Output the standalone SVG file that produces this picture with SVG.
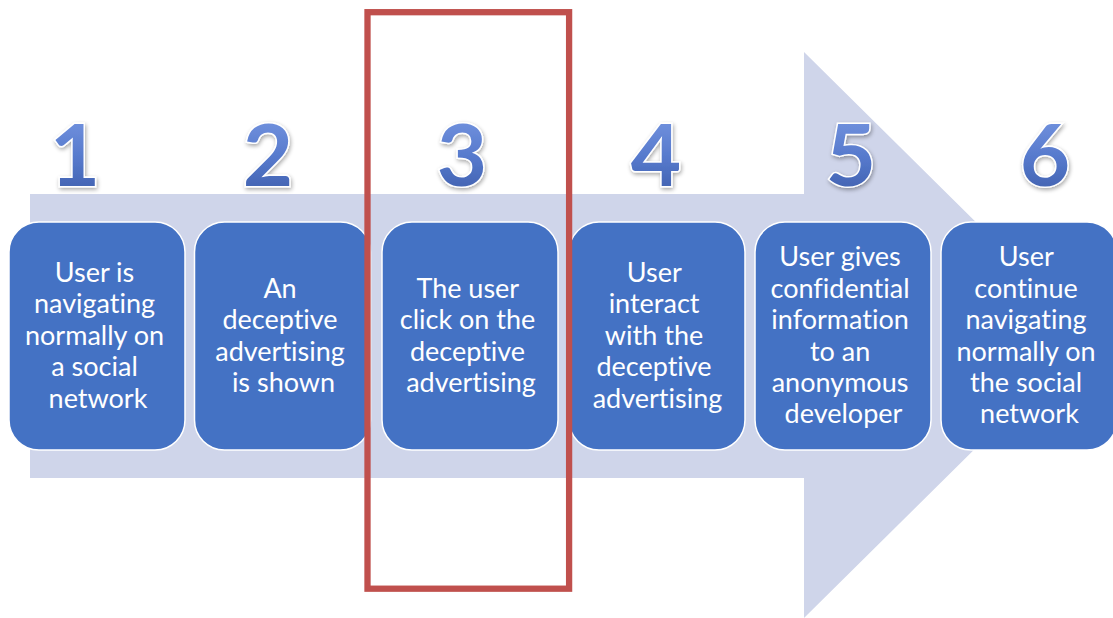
<svg xmlns="http://www.w3.org/2000/svg" width="1113" height="618" viewBox="0 0 1113 618">
  <defs>
    <linearGradient id="numFill" x1="0" y1="0" x2="0" y2="1">
      <stop offset="0" stop-color="#7E9DE6"/>
      <stop offset="0.55" stop-color="#5679CC"/>
      <stop offset="1" stop-color="#3A5AA6"/>
    </linearGradient>
    <filter id="numShadow" x="-30%" y="-30%" width="160%" height="160%">
      <feGaussianBlur in="SourceAlpha" stdDeviation="2"/>
      <feOffset dx="1" dy="2" result="blur"/>
      <feComponentTransfer><feFuncA type="linear" slope="0.35"/></feComponentTransfer>
      <feMerge><feMergeNode/><feMergeNode in="SourceGraphic"/></feMerge>
    </filter>
  </defs>
  <style>
    .arrow { fill: #CFD5EA; }
    .step { fill: #4472C4; stroke: #FFFFFF; stroke-width: 1.5; }
    .label { font-family: Lato, "Open Sans", "Liberation Sans", sans-serif; font-size: 27px; fill: #FFFFFF; text-anchor: middle; font-variant-ligatures: none; font-feature-settings: "liga" 0; }
    .num { font-family: Lato, "Open Sans", "Liberation Sans", sans-serif; font-weight: bold; font-size: 87px; fill: url(#numFill); stroke: #FFFFFF; stroke-width: 3; paint-order: stroke; text-anchor: middle; filter: url(#numShadow); }
    .focus { fill: none; stroke: #C0504D; stroke-width: 6.3; }
  </style>

  <rect width="1113" height="618" fill="#FFFFFF"/>

  <!-- background process arrow -->
  <g id="connectors">
    <polygon class="arrow" points="30,194 804,194 804,52 1090,335 804,618 804,478 30,478"/>
  </g>

  <!-- step numbers -->
  <g id="numbers">
    <text class="num" x="75" y="186">1</text>
    <text class="num" x="268" y="186">2</text>
    <text class="num" x="462" y="186">3</text>
    <text class="num" x="656" y="186">4</text>
    <text class="num" x="851" y="186">5</text>
    <text class="num" x="1045" y="186">6</text>
  </g>

  <!-- steps -->
  <g id="step1">
    <rect class="step" x="9" y="222" width="176" height="228" rx="30" ry="30"/>
    <text class="label" x="98">
      <tspan x="98" y="282">User is</tspan>
      <tspan x="98" y="313.4">navigating</tspan>
      <tspan x="98" y="344.8">normally on</tspan>
      <tspan x="98" y="376.2">a social</tspan>
      <tspan x="98" y="407.6">network</tspan>
    </text>
  </g>

  <g id="step2">
    <rect class="step" x="194.5" y="222" width="176" height="228" rx="30" ry="30"/>
    <text class="label" x="283.5">
      <tspan x="283.5" y="297.7">An</tspan>
      <tspan x="283.5" y="329.1">deceptive</tspan>
      <tspan x="283.5" y="360.5">advertising</tspan>
      <tspan x="283.5" y="391.9">is shown</tspan>
    </text>
  </g>

  <g id="step3">
    <rect class="step" x="382" y="222" width="176" height="228" rx="30" ry="30"/>
    <text class="label" x="471">
      <tspan x="471" y="297.7">The user</tspan>
      <tspan x="471" y="329.1">click on the</tspan>
      <tspan x="471" y="360.5">deceptive</tspan>
      <tspan x="471" y="391.9">advertising</tspan>
    </text>
  </g>

  <g id="step4">
    <rect class="step" x="569" y="222" width="176" height="228" rx="30" ry="30"/>
    <text class="label" x="657.5">
      <tspan x="657.5" y="282">User</tspan>
      <tspan x="657.5" y="313.4">interact</tspan>
      <tspan x="657.5" y="344.8">with the</tspan>
      <tspan x="657.5" y="376.2">deceptive</tspan>
      <tspan x="657.5" y="407.6">advertising</tspan>
    </text>
  </g>

  <g id="step5">
    <rect class="step" x="755" y="222" width="176" height="228" rx="30" ry="30"/>
    <text class="label" x="843.5">
      <tspan x="843.5" y="266.3">User gives</tspan>
      <tspan x="843.5" y="297.7">confidential</tspan>
      <tspan x="843.5" y="329.1">information</tspan>
      <tspan x="843.5" y="360.5">to an</tspan>
      <tspan x="843.5" y="391.9">anonymous</tspan>
      <tspan x="843.5" y="423.3">developer</tspan>
    </text>
  </g>

  <g id="step6">
    <rect class="step" x="941" y="222" width="176" height="228" rx="30" ry="30"/>
    <text class="label" x="1029.5">
      <tspan x="1029.5" y="266.3">User</tspan>
      <tspan x="1029.5" y="297.7">continue</tspan>
      <tspan x="1029.5" y="329.1">navigating</tspan>
      <tspan x="1029.5" y="360.5">normally on</tspan>
      <tspan x="1029.5" y="391.9">the social</tspan>
      <tspan x="1029.5" y="423.3">network</tspan>
    </text>
  </g>

  <!-- highlight frame around step 3 -->
  <g id="highlight">
    <rect class="focus" x="367.5" y="12.2" width="201.6" height="576.5"/>
  </g>
</svg>
